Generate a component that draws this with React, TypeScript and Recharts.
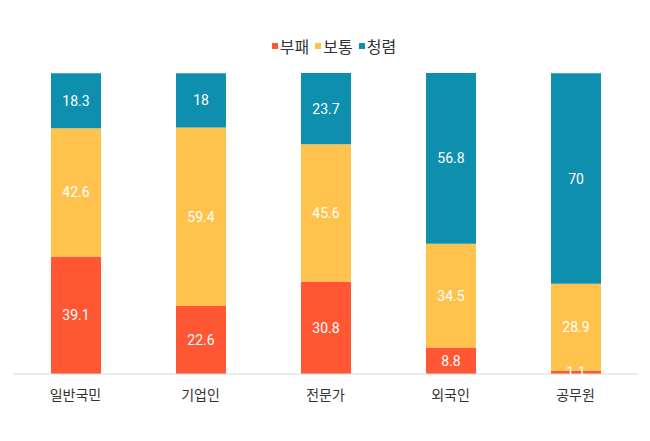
import React from "react";
import { BarChart, Bar, XAxis, YAxis, Legend, LabelList } from "recharts";

const categories = ["일반국민", "기업인", "전문가", "외국인", "공무원"];
const corrupt = [39.1, 22.6, 30.8, 8.8, 1.1];
const normal = [42.6, 59.4, 45.6, 34.5, 28.9];
const clean = [18.3, 18, 23.7, 56.8, 70];

const seriesNames = ["부패", "보통", "청렴"];
const seriesColors = ["#FF5733", "#FFC34D", "#0E8FAE"];

const data = categories.map((name, i) => ({
  name,
  부패: corrupt[i],
  보통: normal[i],
  청렴: clean[i],
}));

const FONT = "Roboto, 'Noto Sans CJK KR', sans-serif";

// legend keeps the series order (recharts sorts by value otherwise)
const renderLegend = () => (
  <div style={{ display: "flex", justifyContent: "center", gap: 6, paddingLeft: 17, fontSize: 16, color: "#333", fontFamily: FONT }}>
    {seriesNames.map((n, i) => (
      <span key={n} style={{ display: "inline-flex", alignItems: "center" }}>
        <span style={{ width: 6, height: 6, background: seriesColors[i], marginRight: 2, display: "inline-block" }} />
        {n}
      </span>
    ))}
  </div>
);

const App: React.FC = () => {
  return (
    <div style={{ position: "absolute", left: 0, top: 0, width: 650, height: 441, background: "#fff", fontFamily: FONT }}>
      <BarChart
        width={650}
        height={441}
        data={data}
        margin={{ top: 73, right: 12, bottom: 37, left: 13 }}
      >
        <XAxis
          dataKey="name"
          axisLine={{ stroke: "#d9d9d9" }}
          tickLine={false}
          tick={{ fontSize: 14, fill: "#333", fontFamily: FONT }}
          tickMargin={10}
          height={30}
        />
        <YAxis hide domain={[0, 100]} />
        <Legend
          verticalAlign="top"
          align="center"
          content={renderLegend}
          wrapperStyle={{ top: 34, height: 0 }}
        />
        <Bar dataKey="부패" stackId="a" fill={seriesColors[0]} barSize={50} isAnimationActive={false}>
          <LabelList dataKey="부패" position="center" fill="#ffffff" fontSize={14} fontFamily={FONT} />
        </Bar>
        <Bar dataKey="보통" stackId="a" fill={seriesColors[1]} barSize={50} isAnimationActive={false}>
          <LabelList dataKey="보통" position="center" fill="#ffffff" fontSize={14} fontFamily={FONT} />
        </Bar>
        <Bar dataKey="청렴" stackId="a" fill={seriesColors[2]} barSize={50} isAnimationActive={false}>
          <LabelList dataKey="청렴" position="center" fill="#ffffff" fontSize={14} fontFamily={FONT} />
        </Bar>
      </BarChart>
    </div>
  );
};

export default App;
